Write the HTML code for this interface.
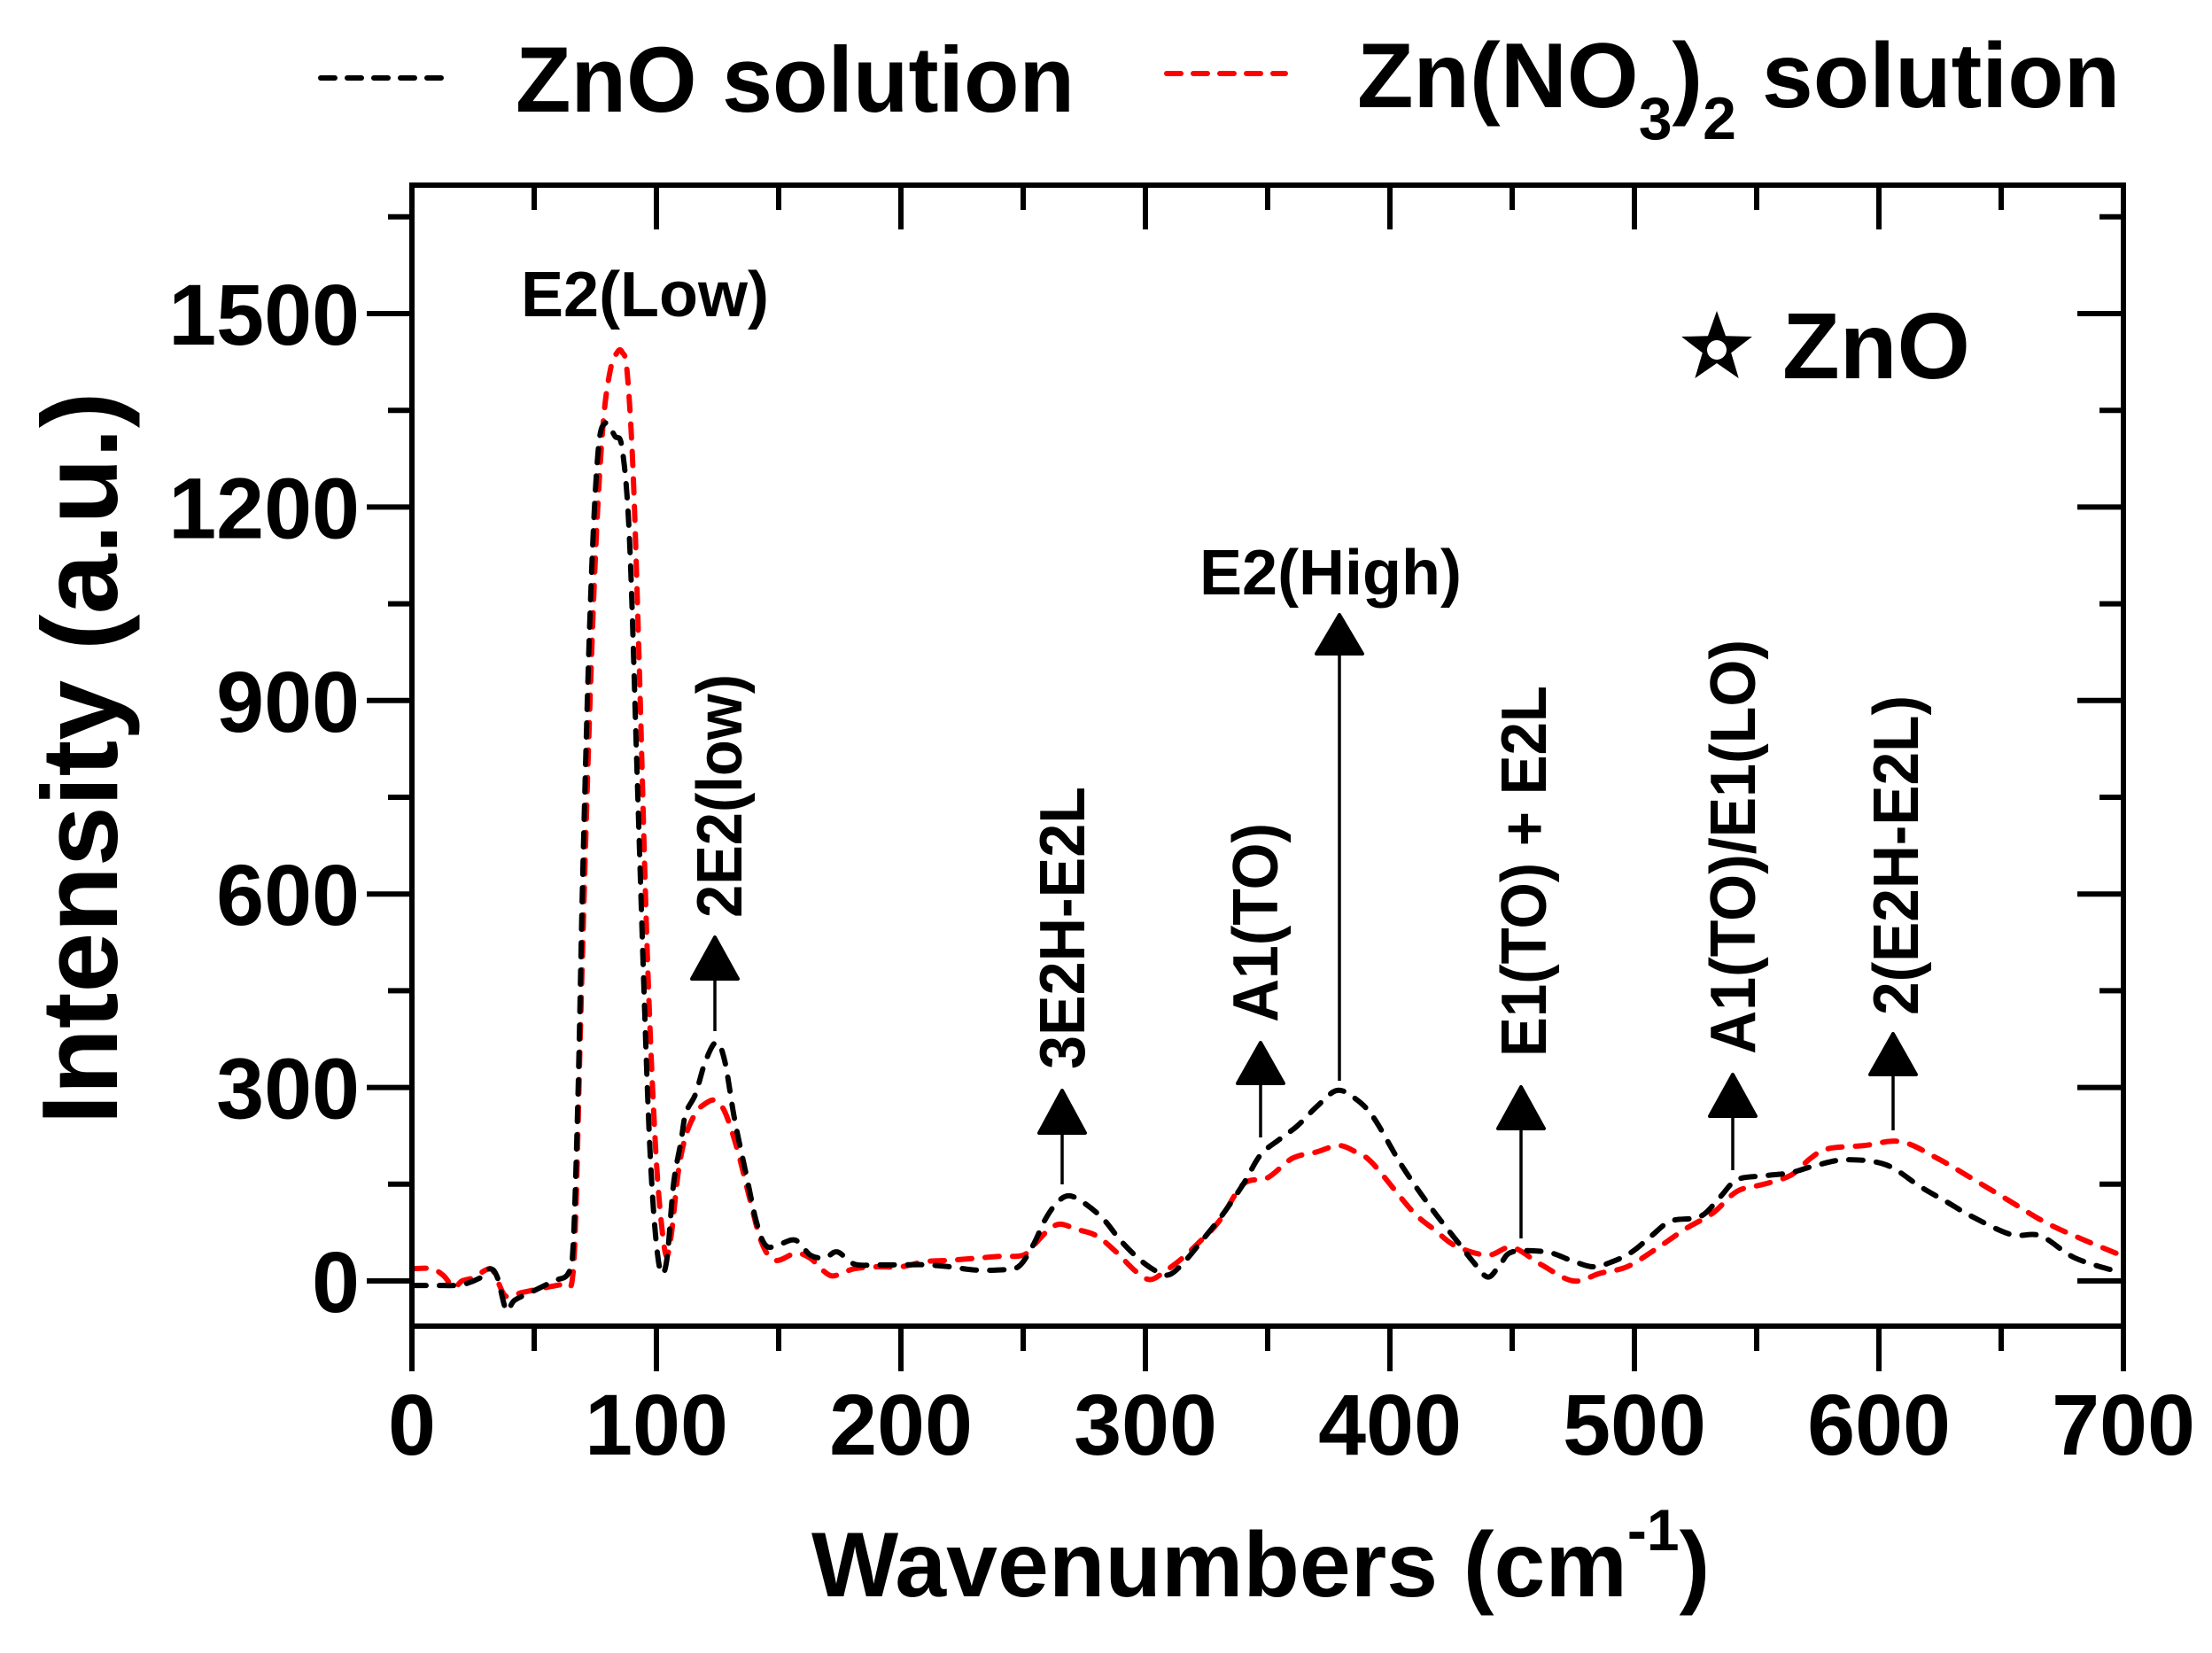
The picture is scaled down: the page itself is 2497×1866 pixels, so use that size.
<!DOCTYPE html>
<html><head><meta charset="utf-8"><style>
html,body{margin:0;padding:0;background:#fff;}
svg{display:block;font-family:"Liberation Sans",Arial,sans-serif;font-weight:bold;}
</style></head><body>
<svg id="s" width="2497" height="1866" viewBox="0 0 2497 1866" xmlns="http://www.w3.org/2000/svg">
<rect width="2497" height="1866" fill="#fff"/>
<g id="ticks" stroke="#000" stroke-width="6"></g>
<g id="curves" fill="none" stroke-width="6" stroke-linecap="round" stroke-linejoin="round"></g>
<rect x="465" y="209" width="1932" height="1288" fill="none" stroke="#000" stroke-width="6"/>
<g id="labels" font-size="97" text-anchor="end"></g>
<g id="arrows"></g>
<!-- annotation labels -->
<g font-size="72">
<text x="728" y="357" text-anchor="middle">E2(Low)</text>
<text x="1502" y="671" text-anchor="middle">E2(High)</text>
<text transform="translate(837,1036) rotate(-90)" textLength="275" lengthAdjust="spacingAndGlyphs">2E2(low)</text>
<text transform="translate(1224,1207) rotate(-90)" textLength="319" lengthAdjust="spacingAndGlyphs">3E2H-E2L</text>
<text transform="translate(1442,1154) rotate(-90)" textLength="225" lengthAdjust="spacingAndGlyphs">A1(TO)</text>
<text transform="translate(1745,1193) rotate(-90)" textLength="419" lengthAdjust="spacingAndGlyphs">E1(TO) + E2L</text>
<text transform="translate(1981,1190) rotate(-90)" textLength="468" lengthAdjust="spacingAndGlyphs">A1(TO)/E1(LO)</text>
<text transform="translate(2165,1146) rotate(-90)" textLength="361" lengthAdjust="spacingAndGlyphs">2(E2H-E2L)</text>
</g>
<!-- ZnO star label -->
<polygon id="star" fill="#000"/>
<circle cx="1938" cy="395" r="11" fill="#fff"/>
<text x="2012" y="427" font-size="106">ZnO</text>
<!-- legend -->
<line x1="362" y1="88" x2="498" y2="88" stroke="#000" stroke-width="6" stroke-dasharray="16 14" stroke-linecap="round"/>
<text x="582" y="126" font-size="105" textLength="631" lengthAdjust="spacingAndGlyphs">ZnO solution</text>
<line x1="1317" y1="83" x2="1451" y2="83" stroke="#f00" stroke-width="6" stroke-dasharray="16 14" stroke-linecap="round"/>
<text x="1532" y="121" font-size="104">Zn(NO<tspan font-size="68" dy="36">3</tspan><tspan dy="-36">)</tspan><tspan font-size="68" dy="36">2</tspan><tspan dy="-36"> solution</tspan></text>
<!-- axis titles -->
<text x="916" y="1802" font-size="104">Wavenumbers (cm<tspan font-size="66" dy="-52">-1</tspan><tspan dy="52">)</tspan></text>
<text transform="translate(132,856) rotate(-90)" font-size="122" text-anchor="middle">Intensity (a.u.)</text>
</svg>
<script>
const NS="http://www.w3.org/2000/svg";
const X=v=>465+v*2.76, Y=v=>1446-v*0.728;
function el(tag,attrs,parent){const e=document.createElementNS(NS,tag);for(const k in attrs)e.setAttribute(k,attrs[k]);parent.appendChild(e);return e;}
const tk=document.getElementById('ticks');
for(let v=0;v<=700;v+=50){const maj=v%100==0;const x=X(v);
 el('line',{x1:x,y1:1497,x2:x,y2:maj?1548:1525},tk);
 el('line',{x1:x,y1:209,x2:x,y2:maj?259:237},tk);}
for(let v=0;v<=1650;v+=150){const maj=v%300==0;const y=Y(v);
 el('line',{x1:465,y1:y,x2:maj?414:438,y2:y},tk);
 el('line',{x1:2397,y1:y,x2:maj?2345:2370,y2:y},tk);}
const lb=document.getElementById('labels');
for(let v=0;v<=1500;v+=300){const t=el('text',{x:406,y:Y(v)+35},lb);t.textContent=v;}
for(let v=0;v<=700;v+=100){const t=el('text',{x:X(v),y:1642,'text-anchor':'middle'},lb);t.textContent=v;}
// star
{let p=[];const cx=1938,cy=393,R=42,r=17;for(let i=0;i<10;i++){const a=-Math.PI/2+i*Math.PI/5;const rr=i%2?r:R;p.push((cx+rr*Math.cos(a)).toFixed(1)+','+(cy+rr*Math.sin(a)).toFixed(1));}
document.getElementById('star').setAttribute('points',p.join(' '));}
// arrows: x, lineBottom, base, tip
const ar=[[807,1164,1105,1058],[1199,1337,1279,1231],[1423,1284,1223,1177],[1512,1220,738,694],[1717,1398,1274,1227],[1956,1321,1260,1213],[2137,1276,1213,1167]];
const ag=document.getElementById('arrows');
for(const [x,b,base,tip] of ar){
 el('line',{x1:x,y1:b,x2:x,y2:base,stroke:'#000','stroke-width':3.5},ag);
 el('polygon',{points:`${x},${tip} ${x+26},${base} ${x-26},${base}`,fill:'#000',stroke:'#000','stroke-width':4,'stroke-linejoin':'round'},ag);}
// data
const black=[[0,-7],[10,-7],[20,-6],[28,5],[32,19],[35,5],[38.6,-45],[42,-30],[50,-15],[58,0],[64,12],[66,60],[68,300],[70,650],[73,1050],[76,1280],[79,1330],[83,1310],[86,1290],[89,1150],[92,800],[94.5,500],[96.6,270],[98.4,132],[100.5,40],[102.4,11],[104.5,40],[107,150],[110,215],[112,260],[116,290],[120,340],[124.5,370],[128,340],[132,250],[137,160],[141,90],[145,54],[151,58],[157,63],[163,40],[169,36],[174,45],[181,26],[190,25],[200,25],[210,25],[220,22],[230,17],[240,17],[248,22],[254,55],[259,95],[264,122],[269,132],[276,118],[283,95],[290,62],[298,32],[305,14],[310,10],[316,30],[323,62],[331,100],[340,150],[347,195],[355,220],[362,240],[370,270],[378,295],[385,285],[393,255],[405,178],[416.7,114],[428,59],[434,30],[440,6],[445,25],[450,45],[464,45],[474,32],[483,22],[491,30],[499,45],[507,70],[515,93],[527,100],[535,130],[542,157],[553,163],[564,168],[575,180],[587,188],[603,180],[617,146],[628,122],[638,100],[654,72],[666,70],[680,36],[697,15]];
const red=[[0,19],[8,19],[13,8],[17,-10],[20.5,0],[25,5],[32,19],[35,0],[38.6,-24],[45,-18],[55,-10],[63,-4],[65.5,0],[67,100],[69,400],[72,800],[75,1120],[78,1320],[81,1410],[84,1440],[86,1440],[88,1410],[90.5,1250],[93,950],[95.5,600],[97.5,380],[99.6,210],[101.5,110],[103.9,40],[106,70],[109,170],[112,225],[116,260],[120,275],[124,280],[128,262],[133,205],[138,130],[143,60],[148.5,32],[157,43],[163,35],[167,20],[171.5,8],[176,12],[181,19],[190,22],[200,22],[210,30],[220,32],[230,35],[240,38],[250,40],[255,58],[260,78],[265,88],[272,80],[280,70],[288,45],[296,15],[302,2],[308,15],[315,35],[322,60],[330,92],[340,150],[350,160],[360,190],[370,200],[379,210],[386,200],[393,182],[409,109],[418,80],[427,54],[440,40],[450,52],[462,25],[475,0],[486,12],[497,22],[509,50],[521,81],[532,105],[542,139],[553,150],[564,164],[572,190],[579,205],[594,210],[609,216],[624,190],[638,159],[653,125],[668,91],[683,65],[697,43]];
function path(d){const p=d.map(([a,b])=>[X(a),Y(b)]);let s=`M${p[0][0].toFixed(1)},${p[0][1].toFixed(1)}`;
 for(let i=0;i<p.length-1;i++){const p0=p[i-1]||p[i],p1=p[i],p2=p[i+1],p3=p[i+2]||p2;const t=0.5/3*2;
  const c1=[p1[0]+(p2[0]-p0[0])*t/2,p1[1]+(p2[1]-p0[1])*t/2],c2=[p2[0]-(p3[0]-p1[0])*t/2,p2[1]-(p3[1]-p1[1])*t/2];
  s+=`C${c1[0].toFixed(1)},${c1[1].toFixed(1)} ${c2[0].toFixed(1)},${c2[1].toFixed(1)} ${p2[0].toFixed(1)},${p2[1].toFixed(1)}`;}
 return s;}
const cg=document.getElementById('curves');
el('path',{d:path(red),stroke:'#f00','stroke-dasharray':'16 15'},cg);
el('path',{d:path(black),stroke:'#000','stroke-dasharray':'16 15'},cg);
</script>
</body></html>
